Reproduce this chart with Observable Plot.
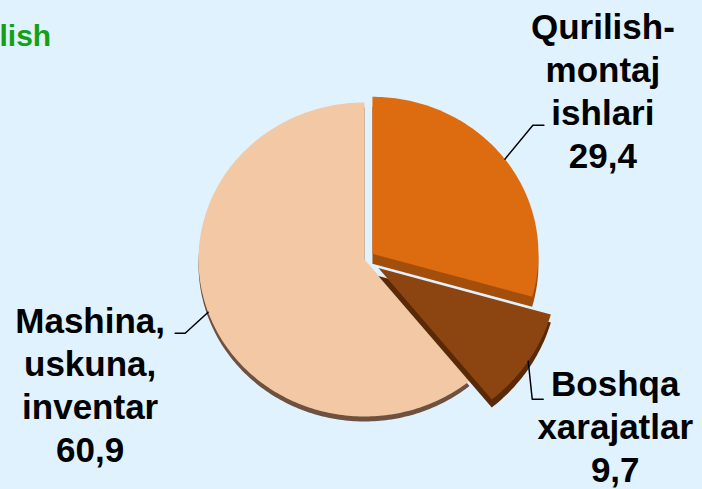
<!DOCTYPE html>
<html><head><meta charset="utf-8">
<script src="https://cdn.jsdelivr.net/npm/d3@7"></script>
<script src="https://cdn.jsdelivr.net/npm/@observablehq/plot@0.6"></script>
<style>html,body{margin:0;padding:0;background:#dff2fe;} #chart{width:702px;height:489px;overflow:hidden}</style>
</head><body><div id="chart"></div>
<script>
// ---- data ----
const categories = ["Qurilish-montaj ishlari", "Boshqa xarajatlar", "Mashina, uskuna, inventar"];
const labelLines = ["Qurilish-\nmontaj\nishlari", "Boshqa\nxarajatlar", "Mashina,\nuskuna,\ninventar"];
const values = [29.4, 9.7, 60.9];
const valueLabels = ["29,4", "9,7", "60,9"];
const titleFragment = "lish";

// ---- layout / style ----
const W = 702, H = 489, CX = 364, CY = 259, RX = 166, RY = 157;
const explode = [0.06, 0.10, 0];
const radius = [1, 1.08, 1];
const depthPx = [10, 8, 5];
const topColors = ["#dd6c10", "#8c4511", "#f3c9a5"];
const sideColors = ["#a34e0a", "#5a2907", "#6f5140"];
const leaderElbow = [[28, -34], [4, 38], [-23, 21]];
const leaderEnd = [[39, -34], [15, 38], [-33, 21]];
const labelOffset = [[98, 9], [87, 121], [-118, 150]];

const rows = categories.map((c, i) => ({cat: c, value: values[i], i}));
const arcs = d3.pie().sort(null).value(d => d.value).startAngle(0).endAngle(2 * Math.PI)(rows);

function apex(a) {
  const k = a.data.i, mid = (a.startAngle + a.endAngle) / 2;
  return [explode[k] * Math.sin(mid), explode[k] * Math.cos(mid)];
}
function slicePts(a, shiftPx) {
  const k = a.data.i;
  const [ox, oy0] = apex(a);
  const oy = oy0 - shiftPx / RY;
  const pts = [{x: ox, y: oy}];
  const n = Math.max(2, Math.ceil((a.endAngle - a.startAngle) / (Math.PI / 180)));
  for (let j = 0; j <= n; j++) {
    const t = a.startAngle + (a.endAngle - a.startAngle) * j / n;
    pts.push({x: ox + radius[k] * Math.sin(t), y: oy + radius[k] * Math.cos(t)});
  }
  pts.push({x: ox, y: oy});
  return pts.map(p => ({...p, cat: a.data.cat}));
}
function arcPoint(a) {
  const k = a.data.i, mid = (a.startAngle + a.endAngle) / 2;
  const [ox, oy] = apex(a);
  return [ox + radius[k] * Math.sin(mid), oy + radius[k] * Math.cos(mid)];
}

const order = [2, 0, 1]; // draw beige, orange, brown
const marks = [];
for (const k of order) {
  const a = arcs[k];
  marks.push(Plot.line(slicePts(a, depthPx[k]), {x: "x", y: "y", fill: sideColors[k], stroke: "none"}));
  marks.push(Plot.line(slicePts(a, 0), {x: "x", y: "y", fill: "cat", stroke: "none"}));
}

const leaders = [];
const labels = [];
arcs.forEach(a => {
  const k = a.data.i;
  const [sx, sy] = arcPoint(a);
  leaders.push({x: sx, y: sy, cat: a.data.cat});
  leaders.push({x: sx + leaderElbow[k][0] / RX, y: sy - leaderElbow[k][1] / RY, cat: a.data.cat});
  leaders.push({x: sx + leaderEnd[k][0] / RX, y: sy - leaderEnd[k][1] / RY, cat: a.data.cat});
  labels.push({x: sx + labelOffset[k][0] / RX, y: sy - labelOffset[k][1] / RY, text: labelLines[k] + "\n" + valueLabels[k]});
});

marks.push(Plot.line(leaders, {x: "x", y: "y", z: "cat", stroke: "#000", strokeWidth: 1.5}));
marks.push(Plot.text(labels, {
  x: "x", y: "y", text: "text", textAnchor: "middle", lineAnchor: "bottom",
  lineHeight: 1.23, fontSize: 35, fontWeight: "bold", fill: "#000",
  fontFamily: "'Liberation Sans', Arial, sans-serif"
}));
marks.push(Plot.text([titleFragment], {
  text: d => d, frameAnchor: "top-left", textAnchor: "start", lineAnchor: "top",
  dx: -1, dy: 24, fontSize: 30, fontWeight: "bold", fill: "#14a014",
  fontFamily: "'Liberation Sans', Arial, sans-serif"
}));

const chart = Plot.plot({
  width: W, height: H, margin: 0,
  x: {domain: [-CX / RX, (W - CX) / RX], axis: null},
  y: {domain: [-(H - CY) / RY, CY / RY], axis: null},
  color: {domain: categories, range: topColors},
  style: {background: "#dff2fe", overflow: "hidden"},
  marks
});
document.getElementById("chart").appendChild(chart);
</script>
</body></html>
